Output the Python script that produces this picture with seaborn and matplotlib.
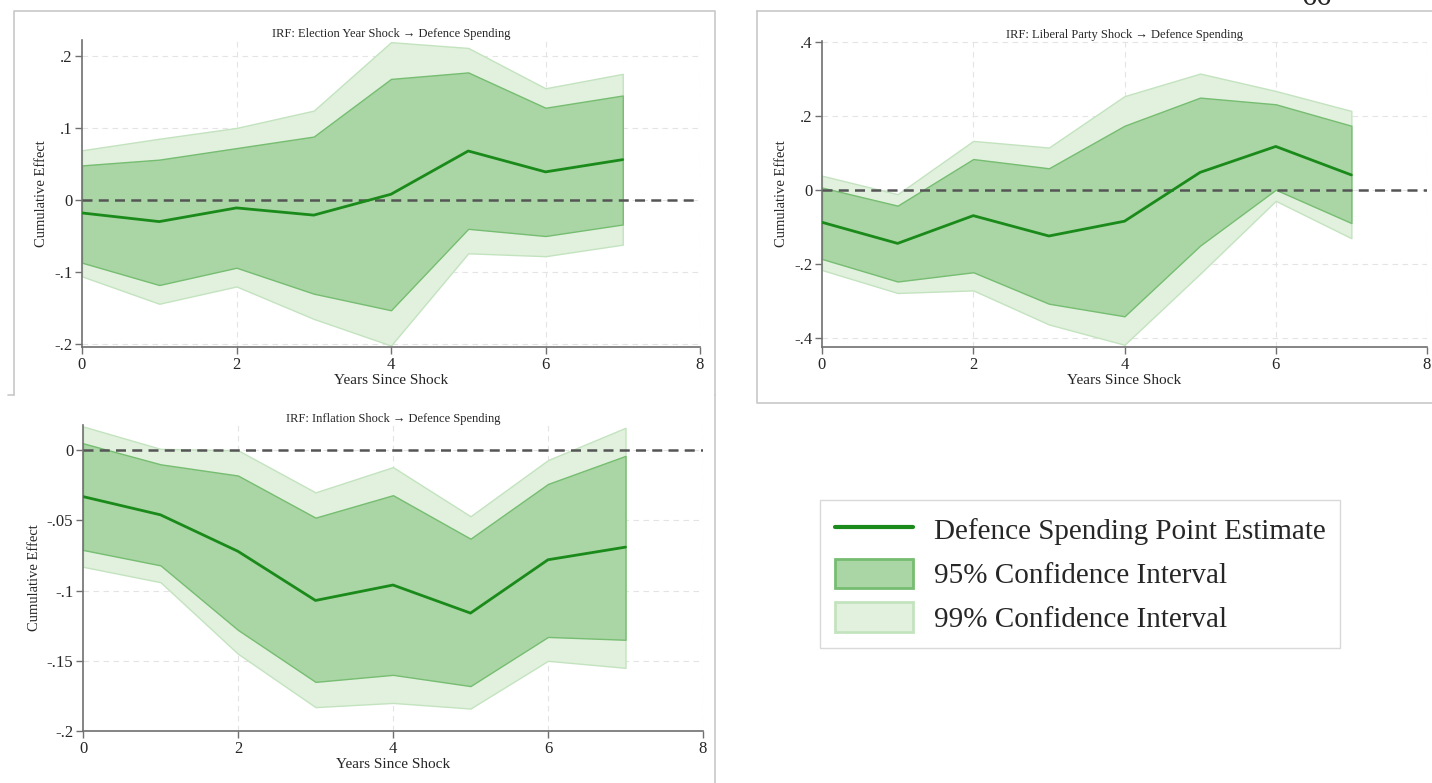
import numpy as np
import pandas as pd
import seaborn as sns
import matplotlib.pyplot as plt
from matplotlib.lines import Line2D
from matplotlib.patches import Patch

# ======================================
# DATA
# ======================================

years = [0, 1, 2, 3, 4, 5, 6, 7]

# IRF: Election Year Shock -> Defence Spending
elec_est = [-0.018, -0.030, -0.011, -0.021, 0.008, 0.068, 0.039, 0.056]
elec_lo95 = [-0.087, -0.118, -0.094, -0.130, -0.153, -0.040, -0.050, -0.034]
elec_hi95 = [0.048, 0.056, 0.072, 0.088, 0.168, 0.177, 0.128, 0.145]
elec_lo99 = [-0.106, -0.144, -0.120, -0.165, -0.202, -0.074, -0.078, -0.062]
elec_hi99 = [0.069, 0.085, 0.100, 0.124, 0.219, 0.211, 0.155, 0.175]

# IRF: Liberal Party Shock -> Defence Spending
lib_est = [-0.088, -0.145, -0.070, -0.125, -0.085, 0.047, 0.117, 0.040]
lib_lo95 = [-0.187, -0.248, -0.223, -0.308, -0.342, -0.151, 0.000, -0.090]
lib_hi95 = [0.006, -0.043, 0.083, 0.058, 0.173, 0.249, 0.231, 0.173]
lib_lo99 = [-0.217, -0.279, -0.272, -0.364, -0.419, -0.227, -0.030, -0.131]
lib_hi99 = [0.038, -0.012, 0.132, 0.114, 0.253, 0.314, 0.267, 0.213]

# IRF: Inflation Shock -> Defence Spending
inf_est = [-0.033, -0.046, -0.072, -0.107, -0.096, -0.116, -0.078, -0.069]
inf_lo95 = [-0.071, -0.082, -0.128, -0.165, -0.160, -0.168, -0.133, -0.135]
inf_hi95 = [0.005, -0.010, -0.018, -0.048, -0.032, -0.063, -0.024, -0.004]
inf_lo99 = [-0.083, -0.094, -0.145, -0.183, -0.180, -0.184, -0.150, -0.155]
inf_hi99 = [0.017, 0.001, 0.000, -0.030, -0.012, -0.047, -0.007, 0.016]

titles = [
    "IRF: Election Year Shock \u2192 Defence Spending",
    "IRF: Liberal Party Shock \u2192 Defence Spending",
    "IRF: Inflation Shock \u2192 Defence Spending",
]

x_ticks = [0, 2, 4, 6, 8]
elec_yticks = [-0.2, -0.1, 0, 0.1, 0.2]
elec_ylabels = ["-.2", "-.1", "0", ".1", ".2"]
lib_yticks = [-0.4, -0.2, 0, 0.2, 0.4]
lib_ylabels = ["-.4", "-.2", "0", ".2", ".4"]
inf_yticks = [-0.2, -0.15, -0.1, -0.05, 0]
inf_ylabels = ["-.2", "-.15", "-.1", "-.05", "0"]

legend_labels = [
    "Defence Spending Point Estimate",
    "95% Confidence Interval",
    "99% Confidence Interval",
]

# ======================================
# STYLE
# ======================================

sns.set_style("white")
plt.rcParams["font.family"] = ["Liberation Serif", "DejaVu Serif"]

LINE_C = "#1a8a1a"
FILL95 = "#a9d6a4"
EDGE95 = "#76bd71"
FILL99 = "#e1f1de"
EDGE99 = "#c3e3bf"
AXIS_C = "#707070"

W, H = 1432, 783
fig = plt.figure(figsize=(W / 100, H / 100), dpi=100)
fig.patch.set_facecolor("white")


def px_axes(left, top, right, bottom):
    return fig.add_axes([left / W, 1 - bottom / H, (right - left) / W, (bottom - top) / H])


def draw_panel(ax, est, lo95, hi95, lo99, hi99, title, yticks, ylabels, ylim):
    df = pd.DataFrame({"year": years, "est": est,
                       "lo95": lo95, "hi95": hi95,
                       "lo99": lo99, "hi99": hi99})
    # grid first
    for yv in yticks:
        ax.axhline(yv, color="#e4e4e4", lw=0.8, ls=(0, (5, 4)), zorder=0)
    for xv in x_ticks[1:]:
        ax.axvline(xv, color="#e4e4e4", lw=0.8, ls=(0, (5, 4)), zorder=0)

    ax.fill_between(df["year"], df["lo99"], df["hi99"], facecolor=FILL99,
                    edgecolor=EDGE99, lw=1.0, zorder=1)
    ax.fill_between(df["year"], df["lo95"], df["hi95"], facecolor=FILL95,
                    edgecolor=EDGE95, lw=1.0, zorder=2)
    ax.axhline(0, color="#555555", lw=1.8, ls=(0, (4, 2.5)), zorder=3)
    sns.lineplot(data=df, x="year", y="est", ax=ax, color=LINE_C, lw=2.0,
                 zorder=4, legend=False)

    ax.set_xlim(0, 8)
    ax.set_ylim(*ylim)
    ax.set_xticks(x_ticks)
    ax.set_xticklabels([str(t) for t in x_ticks], fontsize=12)
    ax.set_yticks(yticks)
    ax.set_yticklabels(ylabels, fontsize=12)
    ax.set_xlabel("Years Since Shock", fontsize=11, labelpad=1)
    ax.set_ylabel("Cumulative Effect", fontsize=10.5, labelpad=4)
    ax.set_title(title, fontsize=9, pad=2)
    for s in ["top", "right"]:
        ax.spines[s].set_visible(False)
    for s in ["left", "bottom"]:
        ax.spines[s].set_color(AXIS_C)
        ax.spines[s].set_linewidth(1.2)
    ax.tick_params(axis="both", direction="out", length=5, width=1,
                   color=AXIS_C, pad=2, left=True, bottom=True)


ax1 = px_axes(82, 40, 700, 347)
draw_panel(ax1, elec_est, elec_lo95, elec_hi95, elec_lo99, elec_hi99,
           titles[0], elec_yticks, elec_ylabels, (-0.204, 0.222))

ax2 = px_axes(822, 41, 1427, 347)
draw_panel(ax2, lib_est, lib_lo95, lib_hi95, lib_lo99, lib_hi99,
           titles[1], lib_yticks, lib_ylabels, (-0.425, 0.402))

ax3 = px_axes(83, 425, 703, 731)
draw_panel(ax3, inf_est, inf_lo95, inf_hi95, inf_lo99, inf_hi99,
           titles[2], inf_yticks, inf_ylabels, (-0.2, 0.018))

# panel frames (light grey boxes of the pasted images)
frame_c = "#c8c8c8"


def fig_line(xs, ys):
    fig.add_artist(Line2D([x / W for x in xs], [1 - y / H for y in ys],
                          color=frame_c, lw=1.2))


fig_line([14, 14, 715, 715], [395, 11, 11, 395])
fig_line([8, 14], [395, 395])
fig_line([715, 715], [395, 783])
fig_line([757, 757, 1432], [11, 403, 403])
fig_line([757, 1432], [11, 11])

# page number, cut by the top edge as in the scanned page
fig.text(1317 / W, 1 - 5 / H, "66", fontsize=22, ha="center", va="baseline")

# legend
handles = [
    Line2D([0], [0], color=LINE_C, lw=3),
    Patch(facecolor=FILL95, edgecolor=EDGE95, lw=2),
    Patch(facecolor=FILL99, edgecolor=EDGE99, lw=2),
]
leg = fig.legend(handles, legend_labels, loc="upper left",
                 bbox_to_anchor=(820 / W, 1 - 500 / H), fontsize=21,
                 frameon=True, fancybox=False, edgecolor="#d0d0d0",
                 handlelength=2.7, handleheight=1.2, handletextpad=0.7,
                 borderpad=0.5, labelspacing=0.45, borderaxespad=0)
leg.get_frame().set_linewidth(1.0)

fig.savefig("out.png", dpi=100, facecolor="white")
